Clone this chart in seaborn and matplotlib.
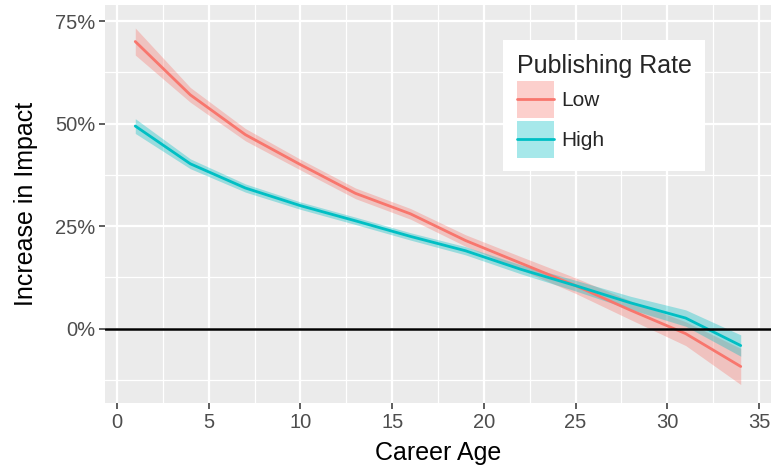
import numpy as np
import pandas as pd
import seaborn as sns
import matplotlib
matplotlib.use("Agg")
import matplotlib.pyplot as plt
from matplotlib.patches import Patch
from matplotlib.lines import Line2D
from matplotlib.legend_handler import HandlerLine2D
from matplotlib.ticker import FixedLocator, FuncFormatter

# Career age at which the effect was estimated
career_age = [1, 4, 7, 10, 13, 16, 19, 22, 25, 28, 31, 34]

# Increase in impact (%) for each publishing-rate group, with confidence bands
low_mean = [70.0, 57.0, 47.3, 40.0, 33.0, 28.0, 21.5, 16.0, 10.5, 4.5, -1.2, -9.2]
low_lower = [66.7, 55.2, 45.8, 38.7, 31.7, 26.7, 20.1, 14.4, 8.6, 2.2, -4.1, -13.6]
low_upper = [73.3, 58.8, 48.8, 41.3, 34.3, 29.3, 22.9, 17.6, 12.4, 6.8, 1.7, -4.8]

high_mean = [49.4, 40.2, 34.3, 30.0, 26.3, 22.5, 19.0, 14.5, 10.5, 6.3, 2.6, -4.1]
high_lower = [47.6, 39.0, 33.3, 29.1, 25.4, 21.6, 18.0, 13.4, 9.2, 4.7, 0.6, -6.7]
high_upper = [51.2, 41.4, 35.3, 30.9, 27.2, 23.4, 20.0, 15.6, 11.8, 7.9, 4.6, -1.5]

groups = ["Low", "High"]
colors = {"Low": "#F8766D", "High": "#00BFC4"}

x_ticks = [0, 5, 10, 15, 20, 25, 30, 35]
y_ticks = [0, 25, 50, 75]

df = pd.concat([
    pd.DataFrame({"age": career_age, "impact": low_mean, "lo": low_lower,
                  "hi": low_upper, "rate": "Low"}),
    pd.DataFrame({"age": career_age, "impact": high_mean, "lo": high_lower,
                  "hi": high_upper, "rate": "High"}),
])


class CenteredLine(HandlerLine2D):
    """Legend line drawn through the vertical middle of the key box."""

    def create_artists(self, legend, orig_handle, xdescent, ydescent,
                       width, height, fontsize, trans):
        artists = super().create_artists(legend, orig_handle, xdescent, ydescent,
                                         width, height, fontsize, trans)
        for a in artists:
            xd = np.asarray(a.get_xdata(), dtype=float)
            a.set_ydata(np.full_like(xd, height / 2 - ydescent))
        return artists


sns.set_theme(style="darkgrid")
plt.rcParams["font.family"] = ["Liberation Sans", "DejaVu Sans"]

W, H = 771, 465
fig = plt.figure(figsize=(W / 100, H / 100), dpi=100)
fig.patch.set_facecolor("white")
left, right, top, bottom = 105, 771, 5, 403
ax = fig.add_axes([left / W, (H - bottom) / H, (right - left) / W, (bottom - top) / H])
ax.set_facecolor("#EBEBEB")

# confidence ribbons
for g in groups:
    sub = df[df["rate"] == g]
    ax.fill_between(sub["age"], sub["lo"], sub["hi"], color=colors[g],
                    alpha=0.35, linewidth=0, zorder=2)

sns.lineplot(data=df, x="age", y="impact", hue="rate", hue_order=groups,
             palette=colors, linewidth=2.0, ax=ax, legend=False, zorder=3)

ax.axhline(0, color="black", linewidth=1.8, zorder=4)

ax.set_xlim(-0.65, 35.65)
ax.set_ylim(-18.1, 78.9)

ax.xaxis.set_major_locator(FixedLocator(x_ticks))
ax.yaxis.set_major_locator(FixedLocator(y_ticks))
ax.xaxis.set_minor_locator(FixedLocator(np.arange(2.5, 35, 5)))
ax.yaxis.set_minor_locator(FixedLocator([-12.5, 12.5, 37.5, 62.5]))
ax.yaxis.set_major_formatter(FuncFormatter(lambda v, p: f"{v:.0f}%"))

ax.grid(which="major", color="white", linewidth=1.6)
ax.grid(which="minor", color="white", linewidth=0.9)
ax.set_axisbelow(True)
for s in ax.spines.values():
    s.set_visible(False)

ax.tick_params(axis="both", which="major", length=4, width=1.1, color="#333333",
               labelcolor="#4D4D4D", labelsize=14.5, pad=3, bottom=True, left=True)
ax.tick_params(axis="both", which="minor", length=0)

ax.set_xlabel("Career Age", fontsize=18, color="black", labelpad=7)
ax.set_ylabel("Increase in Impact", fontsize=18, color="black", labelpad=12)

handles = [(Patch(facecolor=colors[g], alpha=0.35, edgecolor="none"),
            Line2D([], [], color=colors[g], linewidth=2.0)) for g in groups]
leg = ax.legend(handles, groups, title="Publishing Rate", loc="upper left",
                bbox_to_anchor=((503 - left) / (right - left), 1 - (40 - top) / (bottom - top)),
                handler_map={Line2D: CenteredLine()},
                fontsize=15, title_fontsize=18, frameon=True, fancybox=False,
                facecolor="white", edgecolor="white", framealpha=1,
                handlelength=1.78, handleheight=2.36, labelspacing=0.15,
                handletextpad=0.35, borderpad=0.65, borderaxespad=0, alignment="left")
leg.get_frame().set_linewidth(0)

fig.savefig("out.png", dpi=100)
